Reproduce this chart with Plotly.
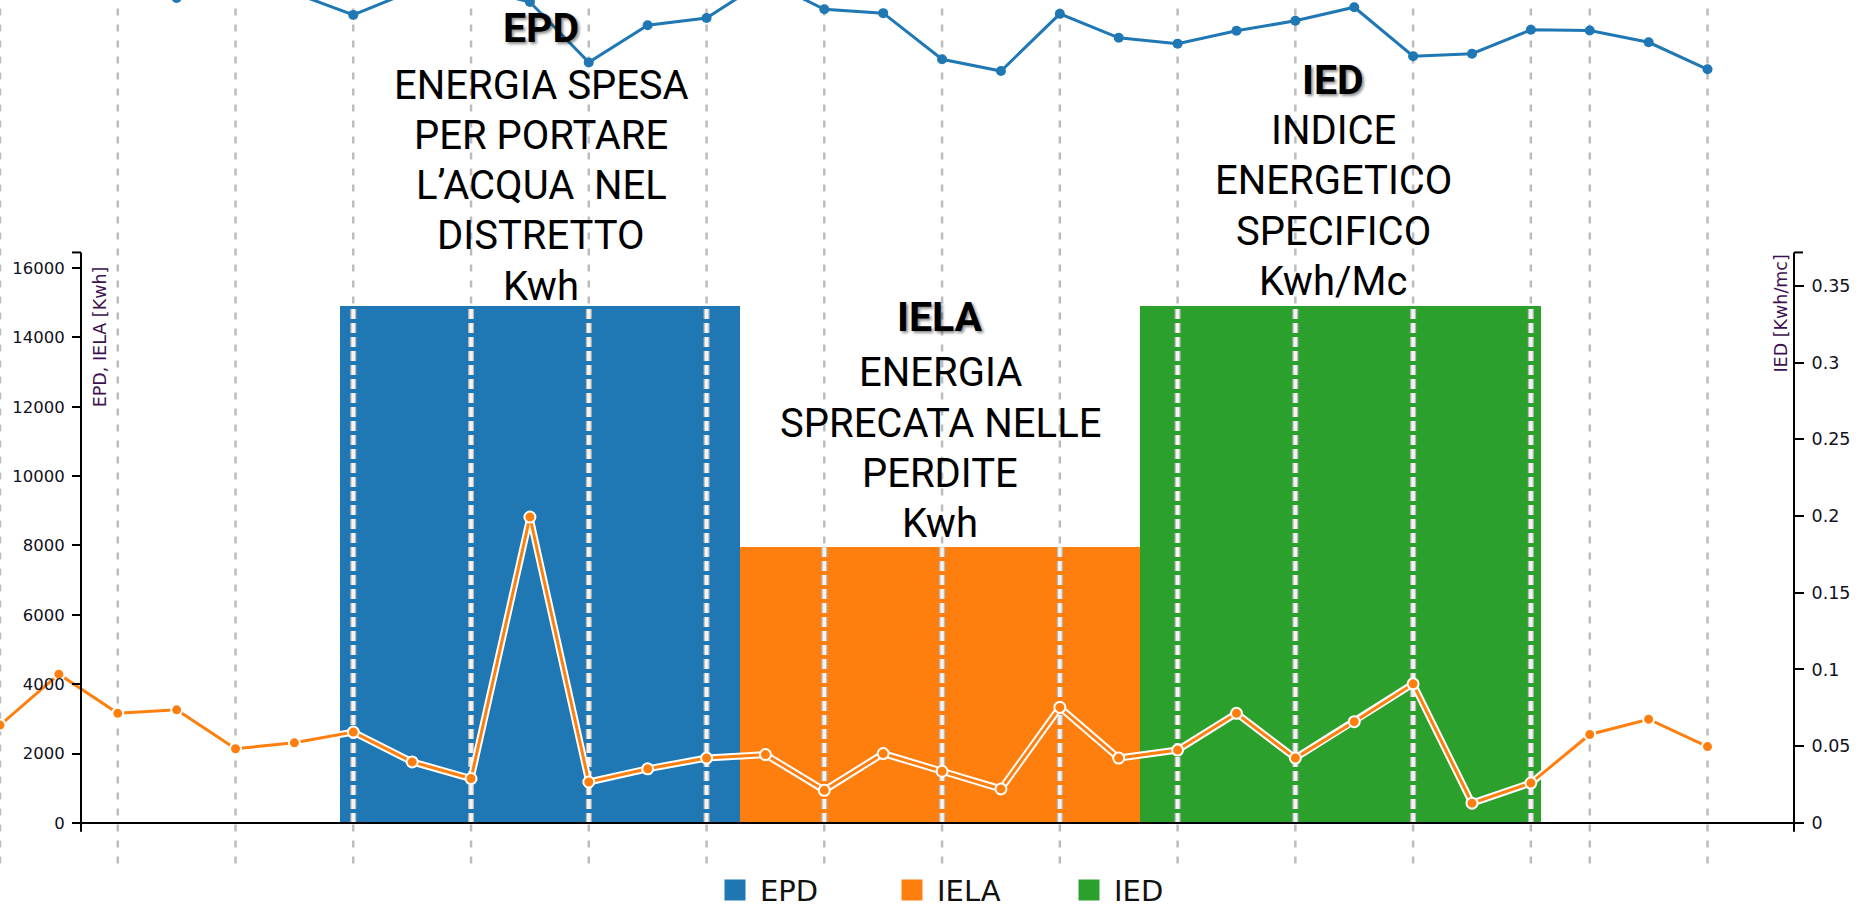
import math
import pandas as pd
import plotly.graph_objects as go

# ---------------- data ----------------
dates = [
    "2015-07-05", "2015-07-06", "2015-07-07", "2015-07-08", "2015-07-09",
    "2015-07-10", "2015-07-11", "2015-07-12", "2015-07-13", "2015-07-14",
    "2015-07-15", "2015-07-16", "2015-07-17", "2015-07-18", "2015-07-19",
    "2015-07-20", "2015-07-21", "2015-07-22", "2015-07-23", "2015-07-24",
    "2015-07-25", "2015-07-26", "2015-07-27", "2015-07-28", "2015-07-29",
    "2015-07-30", "2015-07-31", "2015-08-01", "2015-08-02", "2015-08-03",
]
epd = [24500, 24800, 24300, 23790, 24400, 23930, 23300, 23990, 24100, 23670,
       21930, 23000, 23210, 24300, 23460, 23350, 22020, 21680, 23330, 22640,
       22470, 22840, 23130, 23520, 22110, 22180, 22870, 22850, 22510, 21730]
iela = [2820, 4290, 3160, 3260, 2140, 2310, 2620, 1760, 1280, 8820,
        1180, 1560, 1870, 1970, 940, 2000, 1490, 980, 3330, 1870,
        2100, 3160, 1870, 2920, 4010, 570, 1150, 2550, 2990, 2200]
bar_names = ["EPD", "IELA", "IED"]
bar_values = [14900, 7950, 14900]
grid_dates = ["2015-07-05", "2015-07-07", "2015-07-09", "2015-07-11", "2015-07-13",
              "2015-07-15", "2015-07-17", "2015-07-19", "2015-07-21", "2015-07-23",
              "2015-07-25", "2015-07-27", "2015-07-29", "2015-07-31", "2015-08-01",
              "2015-08-03"]
left_ticks = [0, 2000, 4000, 6000, 8000, 10000, 12000, 14000, 16000]
right_ticks = [0, 0.05, 0.1, 0.15, 0.2, 0.25, 0.3, 0.35]
right_tick_text = ["0", "0.05", "0.1", "0.15", "0.2", "0.25", "0.3", "0.35"]
blocks = [
    ["EPD", "ENERGIA SPESA", "PER PORTARE", "L\u2019ACQUA  NEL", "DISTRETTO", "Kwh"],
    ["IELA", "ENERGIA", "SPRECATA NELLE", "PERDITE", "Kwh"],
    ["IED", "INDICE", "ENERGETICO", "SPECIFICO", "Kwh/Mc"],
]
left_title = "EPD, IELA [Kwh]"
right_title = "IED [Kwh/mc]"

# ---------------- layout geometry (pixels) ----------------
W, H = 1874, 916
PLOT_BOTTOM = 873          # bottom of plotting area (px from top)
ZERO_PX = 832              # pixel row of value 0
TOP_TICK_PX = 271          # pixel row of 16000
PX_PER_UNIT_L = (ZERO_PX - TOP_TICK_PX) / 16000.0
PX_PER_UNIT_R = (ZERO_PX - TOP_TICK_PX) / 0.3616   # right axis px per unit
DAY_PX = 58.88             # px per day on x axis
AX_L, AX_R = 81, 1794      # axis line x positions
AX_TOP_VAL = 16450
BAR_START, BAR_DAYS = 5.775, 6.797   # bar block start (days from first date) and width
BLUE, ORANGE, GREEN = "#1f77b4", "#ff7f0e", "#2ca02c"
colors = [BLUE, ORANGE, GREEN]
AXFONT = "DejaVu Sans"

ymin = (ZERO_PX - PLOT_BOTTOM) / PX_PER_UNIT_L
ymax = ZERO_PX / PX_PER_UNIT_L
y2min = (ZERO_PX - PLOT_BOTTOM) / PX_PER_UNIT_R
y2max = ZERO_PX / PX_PER_UNIT_R

t0 = pd.Timestamp(dates[0])
x2_end = t0 + pd.Timedelta(days=W / DAY_PX)
total_days = W / DAY_PX
cat_min = -0.5 - BAR_START / BAR_DAYS
cat_max = 2.5 + (total_days - BAR_START - 3 * BAR_DAYS) / BAR_DAYS

fig = go.Figure()

# big coloured blocks
for name, val, col in zip(bar_names, bar_values, colors):
    fig.add_trace(go.Bar(x=[name], y=[val], marker=dict(color=col, line=dict(width=0)),
                         xaxis="x", yaxis="y", showlegend=False, hoverinfo="skip",
                         legendgroup=name))

# white dashed grid segments over the blocks
wx, wy = [], []
for g in grid_dates:
    d = (pd.Timestamp(g) - t0).days
    k = math.floor((d - BAR_START) / BAR_DAYS)
    if 0 <= k < 3:
        wx += [g, g, None]
        wy += [0, bar_values[k], None]
fig.add_trace(go.Scatter(x=wx, y=wy, mode="lines", xaxis="x2", yaxis="y",
                         line=dict(color="#b9b9b9", width=6, dash="10px,4px"),
                         showlegend=False, hoverinfo="skip"))
fig.add_trace(go.Scatter(x=wx, y=wy, mode="lines", xaxis="x2", yaxis="y",
                         line=dict(color="#f4f4f4", width=3.5, dash="10px,4px"),
                         showlegend=False, hoverinfo="skip"))

# IELA line (white halo + orange)
fig.add_trace(go.Scatter(x=dates, y=iela, mode="lines", xaxis="x2", yaxis="y",
                         line=dict(color="white", width=7), showlegend=False, hoverinfo="skip"))
fig.add_trace(go.Scatter(x=dates, y=iela, mode="lines+markers", xaxis="x2", yaxis="y",
                         line=dict(color=ORANGE, width=3),
                         marker=dict(color=ORANGE, size=11, line=dict(color="white", width=2)),
                         showlegend=False, name="IELA"))
# EPD line
fig.add_trace(go.Scatter(x=dates, y=epd, mode="lines+markers", xaxis="x2", yaxis="y",
                         line=dict(color=BLUE, width=3),
                         marker=dict(color=BLUE, size=10),
                         showlegend=False, name="EPD"))

# legend entries
for name, col, ya in zip(bar_names, colors, ["y", "y", "y2"]):
    fig.add_trace(go.Scatter(x=[None], y=[None], mode="markers", name=name,
                             xaxis="x2", yaxis=ya, legendgroup=name,
                             marker=dict(symbol="square", size=16, color=col,
                                         line=dict(color=col, width=5))))

shapes = []
# gray dashed gridlines
for g in grid_dates:
    shapes.append(dict(type="line", xref="x2", yref="paper", x0=g, x1=g,
                       y0=1 - PLOT_BOTTOM / H, y1=1, layer="below",
                       line=dict(color="#bdbdbd", width=2.5, dash="7px,9px")))
# axis domain lines
pxL = AX_L / W
pxR = AX_R / W
tick_px = 9
tk = tick_px / W
tick_val = tick_px / PX_PER_UNIT_L
axc = dict(color="#000", width=2)
shapes += [
    dict(type="line", xref="paper", yref="y", x0=pxL, x1=pxL, y0=0, y1=AX_TOP_VAL, line=axc),
    dict(type="line", xref="paper", yref="y", x0=pxL - tk, x1=pxL, y0=AX_TOP_VAL, y1=AX_TOP_VAL, line=axc),
    dict(type="line", xref="paper", yref="y", x0=pxR, x1=pxR, y0=0, y1=AX_TOP_VAL, line=axc),
    dict(type="line", xref="paper", yref="y", x0=pxR, x1=pxR + tk, y0=AX_TOP_VAL, y1=AX_TOP_VAL, line=axc),
    dict(type="line", xref="paper", yref="y", x0=pxL, x1=pxR, y0=0, y1=0, line=axc),
    dict(type="line", xref="paper", yref="y", x0=pxL, x1=pxL, y0=0, y1=-tick_val, line=axc),
    dict(type="line", xref="paper", yref="y", x0=pxR, x1=pxR, y0=0, y1=-tick_val, line=axc),
]

annotations = []
block_cx = [541, 940, 1333]
block_title_y = [28, 320, 81]
block_line1_y = [86, 377, 132]
LINE_STEP = 50.8
for lines, cx, ty, ly in zip(blocks, block_cx, block_title_y, block_line1_y):
    for i, txt in enumerate(lines):
        if i == 0:
            annotations.append(dict(
                text="<b>%s</b>" % txt, x=cx / W, y=1 - ty / H, xref="paper", yref="paper",
                xanchor="center", yanchor="middle", showarrow=False,
                font=dict(family="Roboto", size=41, color="#000",
                          shadow="2px 2px 3px rgba(0,0,0,0.45)")))
        else:
            yc = ly + (i - 1) * LINE_STEP
            annotations.append(dict(
                text=txt, x=cx / W, y=1 - yc / H, xref="paper", yref="paper",
                xanchor="center", yanchor="middle", showarrow=False,
                font=dict(family="Roboto", size=40, color="#000")))
annotations.append(dict(text=left_title, textangle=-90, x=100 / W, y=1 - 341 / H,
                        xref="paper", yref="paper", xanchor="center", yanchor="middle",
                        showarrow=False, font=dict(family=AXFONT, size=17.5, color="#3d1050")))
annotations.append(dict(text=right_title, textangle=-90, x=1781 / W, y=1 - 317 / H,
                        xref="paper", yref="paper", xanchor="center", yanchor="middle",
                        showarrow=False, font=dict(family=AXFONT, size=17.5, color="#3d1050")))

fig.update_layout(
    width=W, height=H, autosize=False,
    margin=dict(l=0, r=0, t=0, b=0),
    paper_bgcolor="white", plot_bgcolor="rgba(0,0,0,0)",
    bargap=0,
    xaxis=dict(type="category", range=[cat_min, cat_max], domain=[0, 1], visible=False,
               anchor="y"),
    xaxis2=dict(type="date", overlaying="x", anchor="y", range=[t0, x2_end],
                tickvals=grid_dates, showgrid=False, showticklabels=False, ticks="",
                zeroline=False, showline=False),
    yaxis=dict(domain=[1 - PLOT_BOTTOM / H, 1], range=[ymin, ymax], anchor="free",
               position=pxL, tickvals=left_ticks, ticktext=[str(v) for v in left_ticks],
               ticks="outside", ticklen=tick_px, tickwidth=2, tickcolor="#000",
               ticklabelstandoff=4,
               tickfont=dict(family=AXFONT, size=16.5, color="#111122"),
               showgrid=False, zeroline=False, showline=False),
    yaxis2=dict(overlaying="y", side="right", anchor="free", position=pxR,
                range=[y2min, y2max], tickvals=right_ticks, ticktext=right_tick_text,
                ticks="outside", ticklen=tick_px, tickwidth=2, tickcolor="#000",
                ticklabelstandoff=4,
                tickfont=dict(family=AXFONT, size=17.5, color="#111122"),
                showgrid=False, zeroline=False, showline=False),
    legend=dict(orientation="h", x=710 / W, xanchor="left", y=1 - 900 / H,
                yanchor="middle", font=dict(family=AXFONT, size=29, color="#111"),
                itemwidth=40, entrywidth=122, entrywidthmode="pixels",
                bgcolor="rgba(0,0,0,0)", itemclick=False, itemdoubleclick=False),
    shapes=shapes,
    annotations=annotations,
    showlegend=True,
)

fig.write_html("out.html", config={"displayModeBar": False},
               post_script="document.body.style.margin='0';document.body.style.overflow='hidden';")
